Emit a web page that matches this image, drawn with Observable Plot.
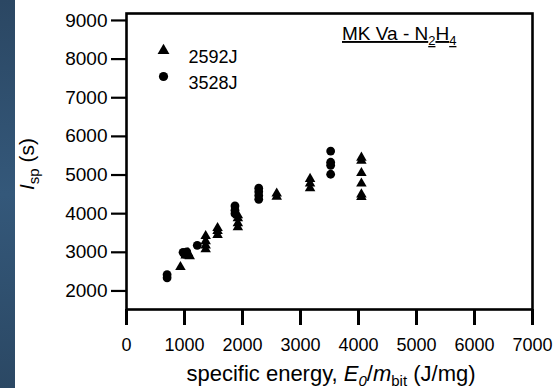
<!DOCTYPE html>
<html>
<head>
<meta charset="utf-8">
<script src="https://cdn.jsdelivr.net/npm/d3@7"></script>
<script src="https://cdn.jsdelivr.net/npm/@observablehq/plot@0.6"></script>
<style>
  html, body { margin: 0; padding: 0; background: #fff; }
  #wrap { position: relative; width: 553px; height: 388px; overflow: hidden; }
  #strip { position: absolute; left: 0; top: 0; width: 15px; height: 388px;
           background: linear-gradient(180deg, #2b4763 0%, #34587a 50%, #2b4864 100%); }
</style>
</head>
<body>
<div id="wrap"><div id="strip"></div></div>
<script>
// Series names
const seriesNames = ["2592J", "3528J"];

// 2592J (triangles)
const triX = [930, 1020, 1060, 1090, 1365, 1365, 1365, 1365, 1570, 1570, 1570, 1920, 1920, 1920, 1920, 2590, 2590, 3165, 3165, 3165, 4050, 4050, 4050, 4050, 4050, 4050];
const triY = [2620, 2920, 2980, 2900, 3080, 3180, 3290, 3420, 3450, 3550, 3630, 3650, 3750, 3880, 3960, 4440, 4520, 4660, 4780, 4900, 4430, 4500, 4780, 5050, 5370, 5450];

// 3528J (circles)
const cirX = [700, 700, 975, 1000, 1040, 1220, 1870, 1870, 1870, 2280, 2280, 2280, 2280, 3520, 3520, 3520, 3520];
const cirY = [2340, 2420, 3000, 2950, 3010, 3180, 4000, 4090, 4200, 4370, 4470, 4570, 4660, 5020, 5250, 5330, 5620];

// Axis ticks
const xTicks = [0, 1000, 2000, 3000, 4000, 5000, 6000, 7000];
const yTicks = [2000, 3000, 4000, 5000, 6000, 7000, 8000, 9000];

const tri = triX.map((x, i) => ({x, y: triY[i]}));
const cir = cirX.map((x, i) => ({x, y: cirY[i]}));
const legend = seriesNames.map((name, i) => ({name, symbol: i === 0 ? "triangle" : "circle"}));

const chart = Plot.plot({
  width: 553,
  height: 388,
  marginLeft: 126,
  marginRight: 21,
  marginTop: 13,
  marginBottom: 79,
  style: {fontFamily: "'Liberation Sans', Arial, sans-serif", fontSize: "19px", color: "#000", background: "transparent"},
  x: {domain: [0, 7000]},
  y: {domain: [1520, 9180]},
  marks: [
    Plot.axisY({ticks: yTicks, tickSize: 15, tickPadding: 4, strokeWidth: 2.2, tickFormat: d3.format("d"), label: null, fontSize: 19}),
    Plot.axisX({ticks: xTicks, tickSize: 16, tickPadding: 13, strokeWidth: 3, tickFormat: d3.format("d"), label: null, fontSize: 18}),
    Plot.dot(tri, {x: "x", y: "y", symbol: "triangle", fill: "#000", r: 3.9}),
    Plot.dot(cir, {x: "x", y: "y", symbol: "circle", fill: "#000", r: 4.4}),
    ...legend.map((d, i) => Plot.dot([d], {frameAnchor: "top-left", dx: 37, dy: 37 + 26 * i, symbol: "symbol", fill: "#000", r: i === 0 ? 4.4 : 4.6})),
    ...legend.map((d, i) => Plot.text([d], {frameAnchor: "top-left", dx: 62, dy: 37 + 26 * i, text: "name", textAnchor: "start", fontSize: 18, fill: "#000"})),
    Plot.frame({stroke: "#000", strokeWidth: 2.6})
  ]
});

document.getElementById("wrap").appendChild(chart);
d3.select(chart).style("position", "absolute").style("left", "0").style("top", "0");

const svg = d3.select(chart);
const ff = "'Liberation Sans', Arial, sans-serif";

// Title: MK Va - N2H4 (underlined, subscripts)
const title = svg.append("text").attr("x", 342).attr("y", 40).attr("text-anchor", "start")
  .attr("font-family", ff).attr("font-size", 19).attr("fill", "#000");
const tparts = [["MK Va - N", 0], ["2", 1], ["H", 0], ["4", 1]];
let shifted = false;
tparts.forEach(([t, sub]) => {
  const ts = title.append("tspan").text(t).attr("text-decoration", "underline");
  if (sub) { ts.attr("font-size", 13).attr("dy", shifted ? 0 : 5); shifted = true; }
  else { ts.attr("dy", shifted ? -5 : 0); shifted = false; }
});

// X label
const xl = svg.append("text").attr("x", 331).attr("y", 381).attr("text-anchor", "middle")
  .attr("font-family", ff).attr("font-size", 22).attr("fill", "#000");
xl.append("tspan").text("specific energy, ");
xl.append("tspan").text("E").attr("font-style", "italic");
xl.append("tspan").text("0").attr("font-style", "italic").attr("font-size", 15).attr("dy", 5);
xl.append("tspan").text("/").attr("dy", -5);
xl.append("tspan").text("m").attr("font-style", "italic");
xl.append("tspan").text("bit").attr("font-size", 15).attr("dy", 5);
xl.append("tspan").text(" (J/mg)").attr("dy", -5);

// Y label
const yl = svg.append("text").attr("transform", "translate(34,164) rotate(-90)").attr("text-anchor", "middle")
  .attr("font-family", ff).attr("font-size", 21).attr("fill", "#000");
yl.append("tspan").text("I").attr("font-style", "italic");
yl.append("tspan").text("sp").attr("font-size", 15).attr("dy", 5);
yl.append("tspan").text(" (s)").attr("dy", -5);
</script>
</body>
</html>
